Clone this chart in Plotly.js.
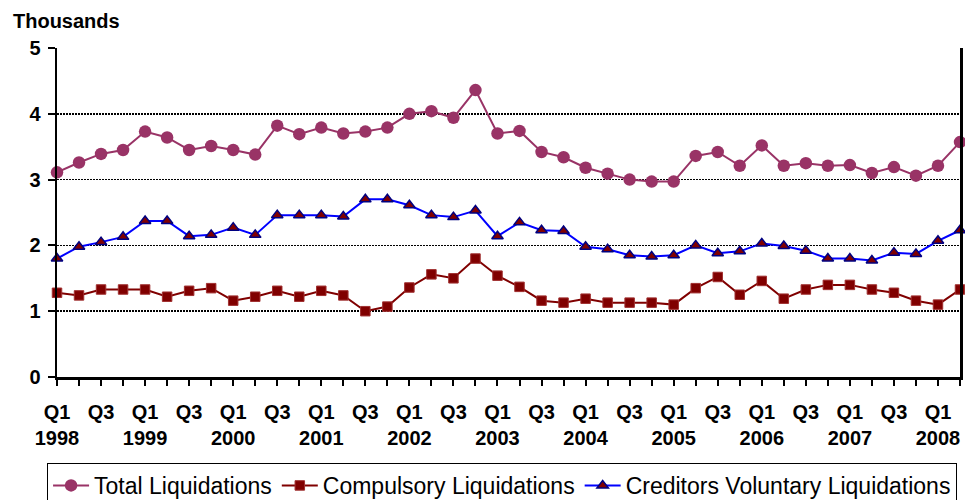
<!DOCTYPE html>
<html>
<head>
<meta charset="utf-8">
<script src="https://cdn.plot.ly/plotly-3.0.1.min.js"></script>
<style>html,body{margin:0;padding:0;background:#fff;}#chart{width:965px;height:500px;}</style>
</head>
<body>
<div id="chart"></div>
<script>
var quarters = ["1998 Q1","1998 Q2","1998 Q3","1998 Q4","1999 Q1","1999 Q2","1999 Q3","1999 Q4",
"2000 Q1","2000 Q2","2000 Q3","2000 Q4","2001 Q1","2001 Q2","2001 Q3","2001 Q4",
"2002 Q1","2002 Q2","2002 Q3","2002 Q4","2003 Q1","2003 Q2","2003 Q3","2003 Q4",
"2004 Q1","2004 Q2","2004 Q3","2004 Q4","2005 Q1","2005 Q2","2005 Q3","2005 Q4",
"2006 Q1","2006 Q2","2006 Q3","2006 Q4","2007 Q1","2007 Q2","2007 Q3","2007 Q4",
"2008 Q1","2008 Q2"];
var totalLiq = [3.11,3.26,3.39,3.45,3.73,3.64,3.45,3.51,3.45,3.38,
3.82,3.69,3.79,3.70,3.73,3.79,4.00,4.04,3.94,4.36,
3.70,3.74,3.42,3.34,3.18,3.09,3.00,2.97,2.97,3.36,
3.42,3.21,3.52,3.21,3.25,3.21,3.22,3.10,3.19,3.06,
3.21,3.57];
var compulsoryLiq = [1.28,1.24,1.33,1.33,1.33,1.22,1.31,1.35,1.16,1.22,
1.31,1.22,1.31,1.24,1.00,1.07,1.36,1.56,1.50,1.80,
1.54,1.37,1.16,1.13,1.19,1.13,1.13,1.13,1.10,1.35,
1.52,1.25,1.46,1.19,1.33,1.40,1.40,1.33,1.28,1.16,
1.10,1.33];
var creditorsLiq = [1.80,1.98,2.05,2.13,2.37,2.37,2.14,2.16,2.27,2.16,
2.46,2.46,2.46,2.44,2.70,2.70,2.61,2.46,2.43,2.53,
2.14,2.35,2.23,2.22,1.98,1.94,1.85,1.83,1.85,2.00,
1.88,1.91,2.03,1.99,1.92,1.80,1.80,1.77,1.89,1.87,
2.07,2.23];
var yTicks = [0,1,2,3,4,5];

var tickText = quarters.map(function(q){
  var parts = q.split(" ");
  if (parts[1] === "Q1") return "Q1<br>" + parts[0];
  if (parts[1] === "Q3") return "Q3";
  return "";
});

var FONT = "Arial, Liberation Sans, sans-serif";

var traces = [
  {x: quarters, y: totalLiq, name: "Total Liquidations", type: "scatter", mode: "lines+markers",
   cliponaxis: false,
   line: {color: "#993366", width: 2},
   marker: {symbol: "circle", size: 12.5, color: "#993366", line: {width: 0}}},
  {x: quarters, y: compulsoryLiq, name: "Compulsory Liquidations", type: "scatter", mode: "lines+markers",
   cliponaxis: false,
   line: {color: "#800000", width: 2},
   marker: {symbol: "square", size: 9.5, color: "#800000", line: {color: "#a03030", width: 1}}},
  {x: quarters, y: creditorsLiq, name: "Creditors Voluntary Liquidations", type: "scatter", mode: "lines+markers",
   cliponaxis: false,
   line: {color: "#0000FF", width: 2},
   marker: {symbol: "triangle-up", size: 10, color: "#800000", line: {color: "#000080", width: 1.5}}}
];

var layout = {
  width: 965, height: 500,
  margin: {l: 57, r: 5, t: 48, b: 123, autoexpand: false},
  paper_bgcolor: "#fff", plot_bgcolor: "#fff",
  font: {family: FONT, color: "#000"},
  showlegend: true,
  xaxis: {
    type: "category", range: [0, 41], autorange: false,
    tickmode: "array", tickvals: quarters, ticktext: tickText,
    ticks: "outside", ticklen: 6, tickwidth: 2, tickcolor: "#000",
    ticklabelstandoff: 9,
    showline: true, linecolor: "#000", linewidth: 2.5,
    showgrid: false, zeroline: false,
    tickfont: {family: FONT, size: 20, color: "#000", weight: "bold"}
  },
  yaxis: {
    range: [0, 5], autorange: false,
    tickmode: "array", tickvals: yTicks,
    ticks: "outside", ticklen: 7, tickwidth: 2, tickcolor: "#000",
    ticklabelstandoff: 3,
    showline: true, linecolor: "#000", linewidth: 2.5, mirror: true,
    showgrid: true, gridcolor: "#000", gridwidth: 1.5, griddash: "2px,1px",
    zeroline: false,
    tickfont: {family: FONT, size: 20, color: "#000", weight: "bold"}
  },
  legend: {
    orientation: "h", x: -0.011, xanchor: "left", y: -0.2614, yanchor: "top",
    itemwidth: 36,
    bordercolor: "#000", borderwidth: 1, bgcolor: "#fff",
    font: {family: FONT, size: 23, color: "#000"}
  },
  annotations: [{
    text: "Thousands", xref: "paper", yref: "paper", x: -0.051, y: 1.0, xanchor: "left", yanchor: "middle",
    yshift: 27, showarrow: false,
    font: {family: FONT, size: 20, color: "#000", weight: "bold"}
  }]
};

Plotly.newPlot("chart", traces, layout, {staticPlot: true});
</script>
</body>
</html>
